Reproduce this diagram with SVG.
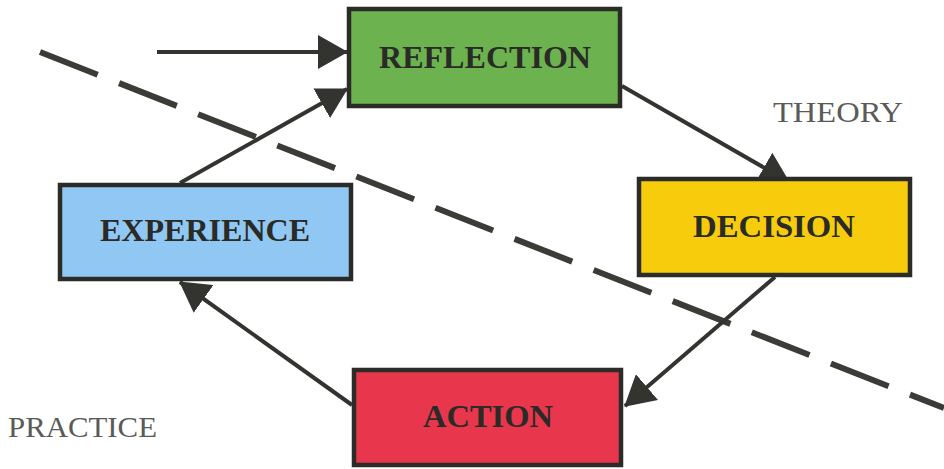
<svg xmlns="http://www.w3.org/2000/svg" width="944" height="469" viewBox="0 0 944 469">
<style>
.box{stroke:#2b2b28;stroke-width:4.5}
.lbl{font-family:"Liberation Serif","Times New Roman",serif;font-weight:bold;font-size:32px;fill:#2a2a27;text-anchor:middle}
.zone{font-family:"Liberation Serif","Times New Roman",serif;font-size:30px;fill:#5a5a58}
.con{stroke:#333330;stroke-width:4;fill:none;marker-end:url(#ah)}
</style>
<defs>
<marker id="ah" markerUnits="userSpaceOnUse" viewBox="0 0 30 34" refX="29" refY="17" markerWidth="30" markerHeight="34" orient="auto">
<path d="M0,0 L30,17 L0,34 z" fill="#333330"/>
</marker>
</defs>
<rect width="944" height="469" fill="#ffffff"/>
<line x1="40" y1="52" x2="944" y2="408" stroke="#3a3d36" stroke-width="6" stroke-dasharray="62 23"/>
<text class="zone" x="773" y="122" textLength="130" lengthAdjust="spacingAndGlyphs">THEORY</text>
<text class="zone" x="8" y="437" textLength="149" lengthAdjust="spacingAndGlyphs">PRACTICE</text>
<g id="connectors">
<line class="con" x1="157" y1="52" x2="347" y2="52"/>
<line class="con" x1="180" y1="183" x2="347" y2="89"/>
<line class="con" x1="622" y1="86" x2="789" y2="182"/>
<line class="con" x1="775" y1="277" x2="625" y2="406"/>
<line class="con" x1="352" y1="405" x2="180" y2="282"/>
</g>
<g id="reflection">
<rect class="box" x="349" y="9" width="271" height="97" fill="#6cb24f"/>
<text class="lbl" x="485" y="68" textLength="212" lengthAdjust="spacingAndGlyphs">REFLECTION</text>
</g>
<g id="decision">
<rect class="box" x="639" y="179" width="271" height="96" fill="#f6cc0c"/>
<text class="lbl" x="774" y="237" textLength="162" lengthAdjust="spacingAndGlyphs">DECISION</text>
</g>
<g id="experience">
<rect class="box" x="60" y="185" width="291" height="94" fill="#91c8f3"/>
<text class="lbl" x="205" y="241" textLength="210" lengthAdjust="spacingAndGlyphs">EXPERIENCE</text>
</g>
<g id="action">
<rect class="box" x="354" y="370" width="267" height="95" fill="#e8364c"/>
<text class="lbl" x="488" y="427" textLength="130" lengthAdjust="spacingAndGlyphs">ACTION</text>
</g>
</svg>
